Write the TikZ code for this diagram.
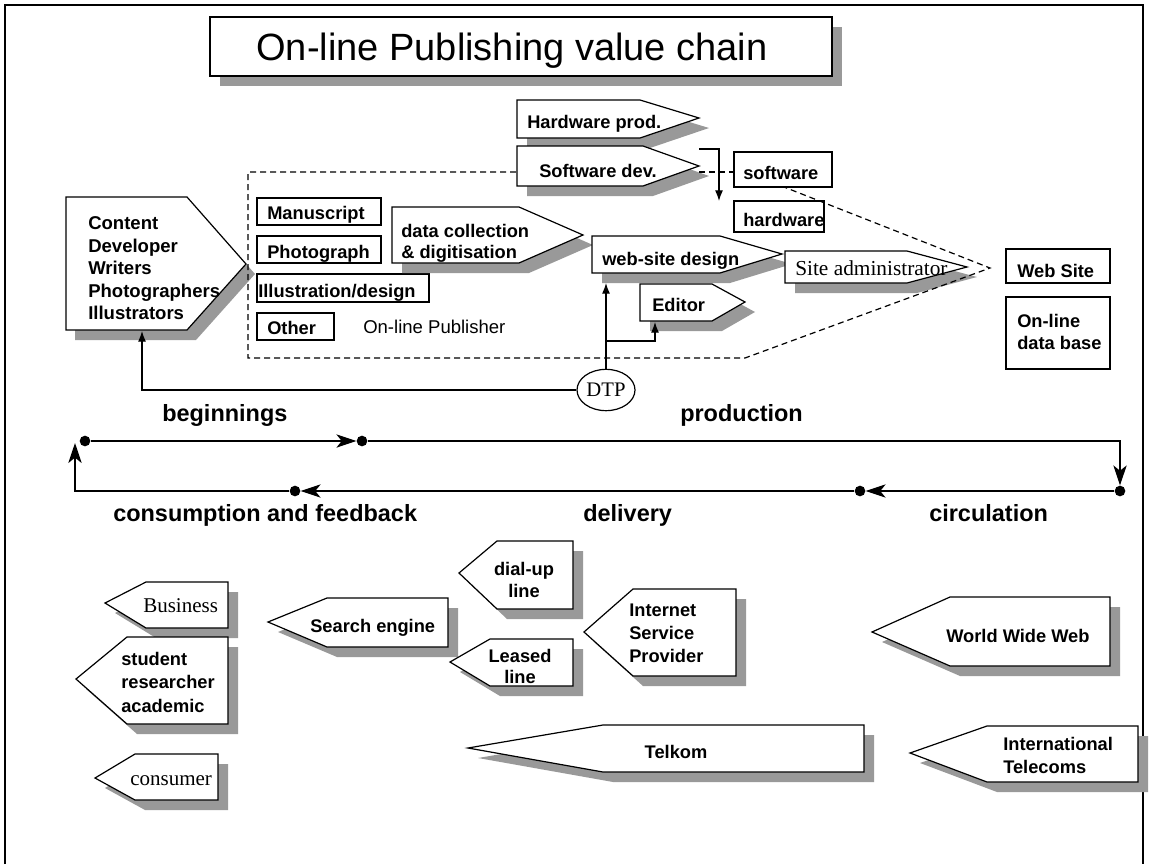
\documentclass[tikz,border=0pt]{standalone}
\usepackage{fontspec}
\setmainfont{Liberation Sans}
\newfontfamily\seriffam{Liberation Serif}
\usetikzlibrary{shapes.geometric,arrows.meta,calc}
\definecolor{shade}{RGB}{153,153,153}
\tikzset{
  outline/.style={draw=black, line width=0.9pt, fill=white},
  shadowf/.style={fill=shade, draw=none},
  lab/.style={font=\fontsize{13.7}{16.9}\selectfont\bfseries, inner sep=0pt},
  labl/.style={lab, anchor=base west},
  labm/.style={lab, anchor=north west, align=left},
  serifl/.style={font=\seriffam\fontsize{15.75}{18}\selectfont, inner sep=0pt, anchor=base west},
  phase/.style={font=\fontsize{17.6}{20}\selectfont\bfseries, inner sep=0pt, anchor=base west},
  dashline/.style={dash pattern=on 4.5pt off 3pt, line width=0.9pt},
  conn/.style={line width=0.9pt, -{Latex[length=8pt,width=6pt]}},
  bigconn/.style={line width=0.9pt, -{Stealth[length=15pt,width=10pt,inset=4pt]}},
  plain/.style={line width=0.9pt},
  dot/.style={circle, fill=black, inner sep=0pt, minimum size=8pt},
}
% right-pointing pentagon: x1, ytop, xcorner, xtip, ybot, ytip
\newcommand\RPent[6]{%
  \fill[shadowf, shift={(10,10)}] (#1,#2) -- (#3,#2) -- (#4,#6) -- (#3,#5) -- (#1,#5) -- cycle;
  \filldraw[outline] (#1,#2) -- (#3,#2) -- (#4,#6) -- (#3,#5) -- (#1,#5) -- cycle;}
% left-pointing pentagon: xtip, ytip, xcorner, ytop, xright, ybot
\newcommand\LPent[6]{%
  \fill[shadowf, shift={(10,10)}] (#1,#2) -- (#3,#4) -- (#5,#4) -- (#5,#6) -- (#3,#6) -- cycle;
  \filldraw[outline] (#1,#2) -- (#3,#4) -- (#5,#4) -- (#5,#6) -- (#3,#6) -- cycle;}
\begin{document}
\begin{tikzpicture}[x=0.75pt,y=-0.75pt]
\useasboundingbox (0,0) rectangle (1149,864);
% frame
\draw[plain] (5,864) -- (5,5) -- (1143,5) -- (1143,864);
% title
\fill[shadowf] (220,27) rectangle (842,86);
\draw[outline] (210,17) rectangle (832,76);
\node[font=\fontsize{28.5}{32}\selectfont, inner sep=0pt, anchor=base] (title) at (512,60) {On-line Publishing value chain};

% top producers
\RPent{517}{100}{640}{699}{138}{118}
\node[labl] (hwprod) at (527,128) {Hardware prod.};
\RPent{517}{146}{643}{699}{186}{166}
\node[labl] (swdev) at (539,177) {Software dev.};

% software / hardware boxes
\draw[outline] (734,152) rectangle (832,187);
\node[labl] (software) at (743,179) {software};
\draw[outline] (734,201) rectangle (824,232);
\node[labl] (hardware) at (743,226) {hardware};

% content developer
\fill[shadowf, shift={(9,10)}] (66,197) -- (187,197) -- (246,264) -- (187,330) -- (66,330) -- cycle;
\filldraw[outline] (66,197) -- (187,197) -- (246,264) -- (187,330) -- (66,330) -- cycle;
\node[labm, font=\fontsize{13.9}{16.9}\selectfont\bfseries] (content) at (88,216.6) {Content\\Developer\\Writers\\Photographers\\Illustrators};

% raw material boxes
\draw[outline] (257,198) rectangle (381,225);
\node[labl] (manu) at (267,219) {Manuscript};
\draw[outline] (257,236) rectangle (381,263);
\node[labl] (photo) at (267,258) {Photograph};
\draw[outline] (257,274) rectangle (429,302);
\node[labl] (illus) at (258,297) {Illustration/design};
\draw[outline] (257,313) rectangle (334,340);
\node[labl] (other) at (267,334) {Other};
\node[font=\fontsize{13.9}{16}\selectfont, inner sep=0pt, anchor=base west] (publisher) at (363,333) {On-line Publisher};

% data collection
\RPent{392}{207}{519}{583}{263}{235}
\node[labm, font=\fontsize{13.7}{15.8}\selectfont\bfseries] (datacoll) at (401,223.6) {data collection\\\& digitisation};

% web-site design
\RPent{592}{236}{720}{782}{273}{254}
\node[labl] (wsd) at (602,265) {web-site design};

% site administrator
\RPent{785}{251}{907}{967}{283}{267}
\node[serifl, font=\seriffam\fontsize{16}{18}\selectfont] (siteadm) at (795,275) {Site administrator};

% editor
\RPent{640}{284}{712}{745}{321}{302}
\node[labl] (editor) at (652,311) {Editor};

% web site / database
\draw[outline] (1006,249) rectangle (1110,283);
\node[labl] (website) at (1017,277) {Web Site};
\draw[outline] (1006,297) rectangle (1110,369);
\node[labm, font=\fontsize{13.7}{16.5}\selectfont\bfseries] (database) at (1017,313.6) {On-line\\data base};

% publisher boundary (dashed)
\draw[dashline] (516,172) -- (248,172) -- (248,358) -- (745,358) -- (990,268) -- (784,187);
\draw[dashline] (699,172) -- (734,172);

% DTP and its links
\node[ellipse, draw, line width=0.9pt, fill=white, minimum width=43.5pt, minimum height=31pt, inner sep=0pt, font=\seriffam\fontsize{15.5}{18}\selectfont] (dtp) at (606,390) {DTP};
\coordinate (cdbot) at (142,331);
\coordinate (wsbot) at (606,283);
\coordinate (branch) at (606,341);
\coordinate (edbot) at (655,322);
\draw[conn] (dtp.west) -| (cdbot);
\draw[conn] (dtp.north) -- (wsbot);
\draw[conn] (branch) -| (edbot);

% software dev -> hardware
\coordinate (swout) at (699,149);
\coordinate (hwin) at (719,201);
\draw[conn] (swout) -| (hwin);

% value chain cycle
\node[dot] (d1) at (85,441) {};
\node[dot] (d2) at (362,441) {};
\node[dot] (d3) at (1120,491) {};
\node[dot] (d4) at (860,491) {};
\node[dot] (d5) at (295,491) {};
\coordinate (upend) at (75,443);
\draw[bigconn] (d1) -- (d2);
\draw[bigconn] (d2) -| (d3);
\draw[bigconn] (d3) -- (d4);
\draw[bigconn] (d4) -- (d5);
\draw[bigconn] (d5) -| (upend);

\node[phase] (beg) at (162,421) {beginnings};
\node[phase] (prod) at (680,421) {production};
\node[phase] (cons) at (113,521) {consumption and feedback};
\node[phase] (deliv) at (583,521) {delivery};
\node[phase] (circ) at (929,521) {circulation};

% consumers
\LPent{105}{603}{146}{582}{228}{628}
\node[serifl] (business) at (143,612) {Business};
\LPent{76}{679}{127}{637}{228}{724}
\node[labm, font=\fontsize{13.7}{17.6}\selectfont\bfseries] (student) at (121,651.6) {student\\researcher\\academic};
\LPent{95}{778}{135}{754}{218}{800}
\node[serifl] (consumer) at (130,785) {consumer};

% delivery
\LPent{268}{622}{327}{598}{448}{647}
\node[labl] (search) at (310,632) {Search engine};
\LPent{459}{573}{497}{541}{573}{609}
\node[lab, anchor=north, align=center, font=\fontsize{13.7}{16.5}\selectfont\bfseries] (dialup) at (524,561.6) {dial-up\\line};
\LPent{450}{662}{490}{639}{573}{686}
\node[lab, anchor=north, align=center, font=\fontsize{13.7}{15.8}\selectfont\bfseries] (leased) at (520,648.6) {Leased\\line};
\LPent{584}{632}{633}{589}{736}{676}
\node[labm, font=\fontsize{13.7}{17.2}\selectfont\bfseries] (isp) at (629,603.6) {Internet\\Service\\Provider};
\LPent{468}{748}{603}{725}{864}{772}
\node[lab, anchor=base] (telkom) at (676,758) {Telkom};

% circulation
\LPent{872}{632}{950}{597}{1110}{666}
\node[labl] (www) at (946,642) {World Wide Web};
\LPent{910}{753}{987}{726}{1138}{782}
\node[labm, font=\fontsize{13.7}{17.2}\selectfont\bfseries] (intl) at (1003,736.6) {International\\Telecoms};
\end{tikzpicture}
\end{document}
